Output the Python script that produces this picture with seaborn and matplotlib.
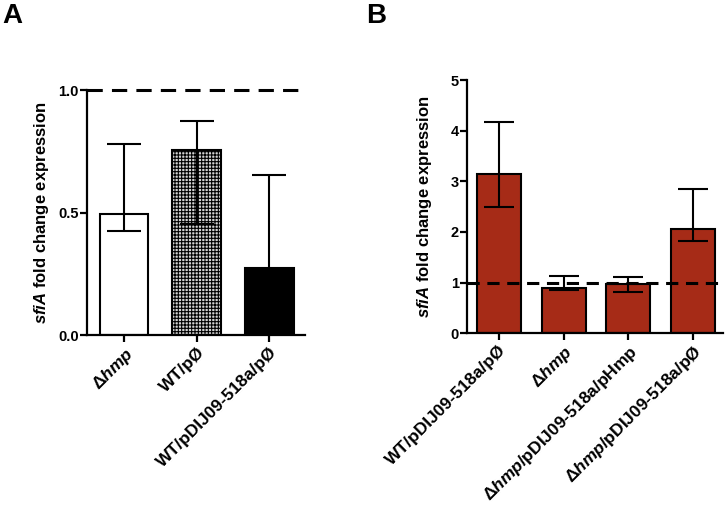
import numpy as np
import matplotlib
matplotlib.use('Agg')
import matplotlib.pyplot as plt
import seaborn as sns

sns.set_style('ticks')
plt.rcParams['font.family'] = ['Liberation Sans', 'DejaVu Sans']
plt.rcParams['font.weight'] = 'bold'
plt.rcParams['axes.labelweight'] = 'bold'
plt.rcParams['text.color'] = 'black'
plt.rcParams['axes.labelcolor'] = 'black'
plt.rcParams['axes.edgecolor'] = 'black'
plt.rcParams['xtick.color'] = 'black'
plt.rcParams['ytick.color'] = 'black'
plt.rcParams['mathtext.fontset'] = 'custom'
plt.rcParams['mathtext.rm'] = 'Liberation Sans:bold'
plt.rcParams['mathtext.it'] = 'Liberation Sans:italic:bold'
plt.rcParams['mathtext.bf'] = 'Liberation Sans:bold'
plt.rcParams['hatch.linewidth'] = 0.8

# Panel A data
labels_a = ['Δ$hmp$', 'WT/pØ', 'WT/pDIJ09-518a/pØ']
mean_a = np.array([0.495, 0.755, 0.275])
hi_a = np.array([0.78, 0.875, 0.655])
lo_a = np.array([0.425, 0.455, 0.10])
colors_a = ['white', '#d4d4d4', 'black']

# Panel B data
labels_b = ['WT/pDIJ09-518a/pØ', 'Δ$hmp$', 'Δ$hmp$/pDIJ09-518a/pHmp', 'Δ$hmp$/pDIJ09-518a/pØ']
mean_b = np.array([3.15, 0.90, 0.98, 2.05])
hi_b = np.array([4.17, 1.12, 1.10, 2.85])
lo_b = np.array([2.50, 0.85, 0.81, 1.82])
bar_red = '#a62b17'

fig = plt.figure(figsize=(7.28, 5.07), dpi=100)
ax_a = fig.add_axes([0.1195, 0.339, 0.2995, 0.483])
ax_b = fig.add_axes([0.6415, 0.343, 0.3515, 0.499])


def style_axis(ax, pad):
    sns.despine(ax=ax)
    for side in ['left', 'bottom']:
        ax.spines[side].set_linewidth(1.6)
    ax.tick_params(axis='both', width=1.6, length=5, direction='out', color='black')
    ax.tick_params(axis='y', labelsize=10.5, pad=1)
    ax.tick_params(axis='x', labelsize=12.5, pad=2)
    for t in ax.get_xticklabels():
        t.set_rotation(45)
        t.set_ha('right')
        t.set_rotation_mode('anchor')
    ax.set_xlabel('')
    ax.set_ylabel('$sfiA$ fold change expression', fontsize=12, labelpad=pad)


# Panel A
sns.barplot(x=labels_a, y=mean_a, hue=labels_a, palette=colors_a, legend=False, saturation=1,
            width=0.67, edgecolor='black', linewidth=1.5, ax=ax_a, zorder=2)
ax_a.patches[1].set_hatch('+++++')
ax_a.errorbar(np.arange(len(mean_a)), mean_a, yerr=[mean_a - lo_a, hi_a - mean_a],
              fmt='none', ecolor='black', elinewidth=1.5, capsize=12, capthick=1.5, zorder=3)
ax_a.axhline(1.0, color='black', lw=2.2, ls=(0, (5, 3)), clip_on=False, zorder=4)
ax_a.set_ylim(0, 1)
ax_a.set_xlim(-0.51, 2.49)
ax_a.set_yticks([0.0, 0.5, 1.0])
ax_a.set_yticklabels(['0.0', '0.5', '1.0'])
style_axis(ax_a, 5)

# Panel B
sns.barplot(x=labels_b, y=mean_b, color=bar_red, saturation=1,
            width=0.68, edgecolor='black', linewidth=1.5, ax=ax_b, zorder=2)
ax_b.errorbar(np.arange(len(mean_b)), mean_b, yerr=[mean_b - lo_b, hi_b - mean_b],
              fmt='none', ecolor='black', elinewidth=1.5, capsize=11, capthick=1.5, zorder=3)
ax_b.axhline(1.0, color='black', lw=2.2, ls=(0, (4, 2.5)), zorder=4)
ax_b.set_ylim(0, 5)
ax_b.set_xlim(-0.49, 3.46)
ax_b.set_yticks(range(6))
style_axis(ax_b, 12)

fig.text(0.003, 0.995, 'A', fontsize=20, fontweight='bold', va='top', ha='left')
fig.text(0.503, 0.995, 'B', fontsize=20, fontweight='bold', va='top', ha='left')

fig.savefig('out.png', dpi=100)
